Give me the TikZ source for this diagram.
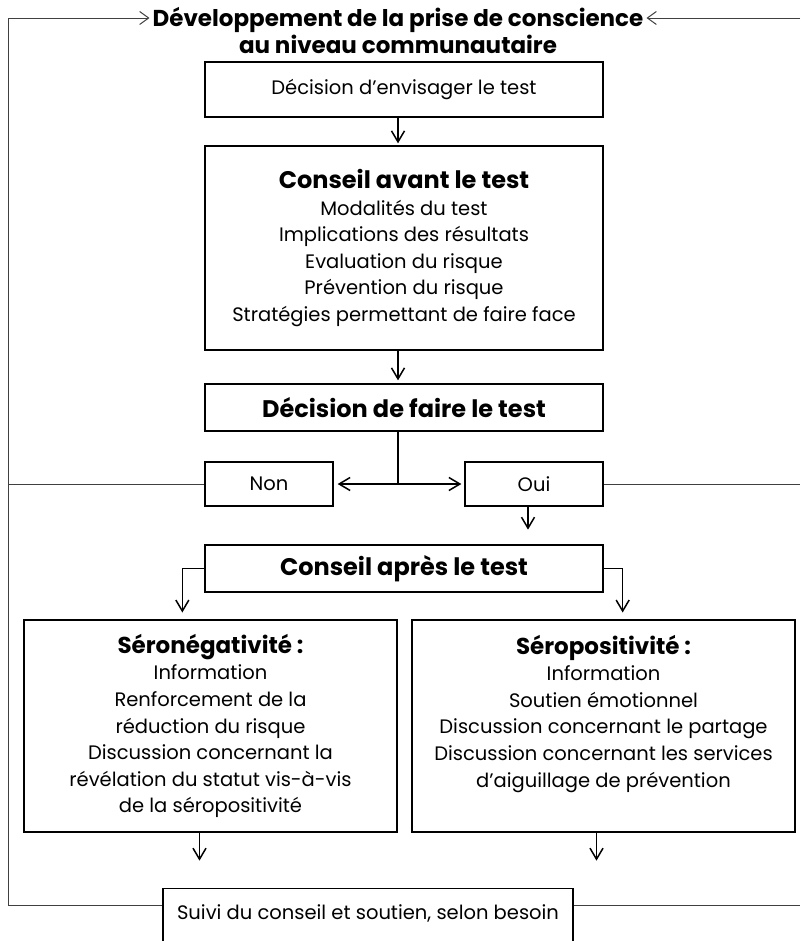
\documentclass[tikz,border=0pt]{standalone}
\usepackage{fontspec}
\setmainfont{Poppins}
\usetikzlibrary{arrows.meta,calc}
\begin{document}
\begin{tikzpicture}[x=1pt,y=-1pt,
  box/.style={draw=black, line width=1.3pt, align=center, inner sep=0pt},
  body/.style={font=\fontsize{19.5}{26.6}\selectfont},
  head/.style={font=\bfseries\fontsize{24}{26.6}\selectfont},
  arr/.style={line width=1.6pt, -{Straight Barb[length=11pt,width=13pt,line width=1.5pt]}},
  loop/.style={line width=0.9pt, draw=black!75},
  looparr/.style={loop, -{Straight Barb[length=9pt,width=13pt,line width=1pt]}},
]
\clip (0,0) rectangle (800,941);
\fill[white] (0,0) rectangle (800,941);

\node[align=center, inner sep=0pt, font=\bfseries\fontsize{23}{27}\selectfont] (title) at (398,31)
  {Développement de la prise de conscience\\au niveau communautaire};

\node[box, body, minimum width=398pt, minimum height=55pt] (b1) at (404,89.5)
  {Décision d’envisager le test};
\node[box, body, minimum width=398pt, minimum height=204pt] (b2) at (404,248)
  {{\bfseries\fontsize{24}{26.6}\selectfont Conseil avant le test}\\Modalités du test\\Implications des résultats\\Evaluation du risque\\Prévention du risque\\Stratégies permettant de faire face};
\node[box, head, minimum width=398pt, minimum height=47pt] (b3) at (404,407.5)
  {Décision de faire le test};
\node[box, body, minimum width=128pt, minimum height=44pt] (non) at (269,484) {Non};
\node[box, body, minimum width=138pt, minimum height=44pt] (oui) at (534,484) {Oui};
\node[box, head, minimum width=398pt, minimum height=47pt] (b4) at (404,568.5)
  {Conseil après le test};
\node[box, body, minimum width=373pt, minimum height=212pt] (neg) at (210.5,726)
  {{\bfseries\fontsize{23}{26.6}\selectfont Séronégativité :}\\Information\\Renforcement de la\\réduction du risque\\Discussion concernant la\\révélation du statut vis-à-vis\\de la séropositivité};
\node[box, body, minimum width=383pt, minimum height=212pt, text depth=30pt] (pos) at (603.5,726)
  {{\bfseries\fontsize{23}{26.6}\selectfont Séropositivité :}\\Information\\Soutien émotionnel\\Discussion concernant le partage\\Discussion concernant les services\\d’aiguillage de prévention};
\node[box, body, anchor=north, minimum width=410pt, text height=23pt, text depth=45pt, inner ysep=8pt] (suivi) at (368,888)
  {Suivi du conseil et soutien, selon besoin};

% loop lines
\coordinate (tl) at (8,18);
\coordinate (tr) at (800,18);
\coordinate (bl) at (8,905);
\coordinate (ax) at (398,0);
\draw[loop] (non.west) -- (non.west -| tl);
\draw[loop] (oui.east) -- (oui.east -| tr);
\draw[loop] (suivi.west |- bl) -- (bl) -- (tl);
\draw[looparr] (tl) -- ([xshift=-3pt]tl -| title.west);
\draw[loop] (suivi.east |- bl) -- (bl -| tr);
\draw[looparr] (tr) -- ([xshift=3pt]tr -| title.east);

% arrows
\draw[arr, shorten >=2pt] (b1.south -| ax) -- (b2.north -| ax);
\draw[arr, shorten >=3pt] (b2.south -| ax) -- (b3.north -| ax);
\draw[line width=1.6pt] (b3.south -| ax) -- (ax |- non.east) coordinate (split);
\draw[arr, shorten >=4pt] (split) -- (non.east);
\draw[arr, shorten >=3pt] (split) -- (oui.west);
\draw[arr] ([xshift=-6pt]oui.south) -- ++(0,23);
\draw[arr] (b4.west) -| ++(-22,44);
\draw[arr] (b4.east) -| ++(19,44);
\draw[arr] ([xshift=-11pt]neg.south) -- ++(0,28);
\draw[arr] ([xshift=-7pt]pos.south) -- ++(0,28);
\end{tikzpicture}
\end{document}
